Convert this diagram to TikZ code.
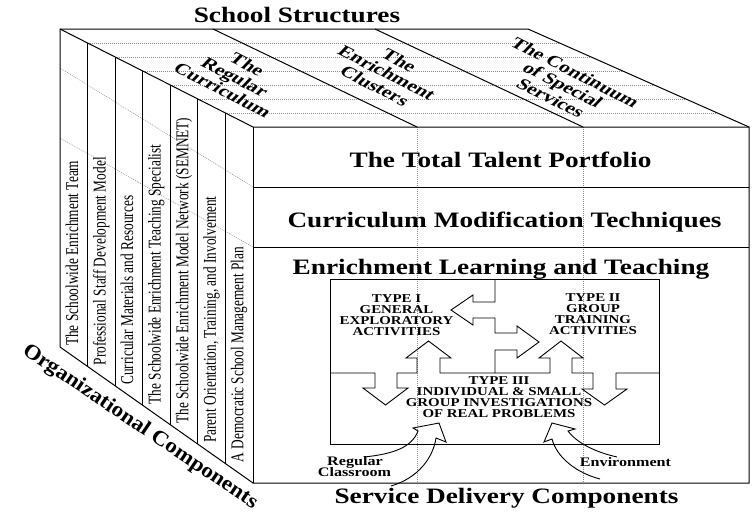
\documentclass[tikz,border=0pt]{standalone}
\usepackage{fontspec}
\setmainfont{Liberation Serif}
\usetikzlibrary{calc}
\begin{document}
\begin{tikzpicture}[x=1pt,y=-1pt,
  cube/.style={line width=1pt, line join=miter, black},
  thin/.style={line width=0.9pt, line join=miter, black},
  dots/.style={black!45, line width=0.5pt, dash pattern=on 1pt off 1pt},
  title/.style={font=\bfseries\fontsize{22}{24}\selectfont, inner sep=0pt, anchor=base, xscale=1.24},
  toptext/.style={font=\bfseries\fontsize{17}{17}\selectfont, align=center, inner sep=0pt, rotate=-27, xslant=0.3, xscale=1.2},
  typetext/.style={font=\bfseries\fontsize{12}{11}\selectfont, align=center, inner sep=0pt, xscale=1.24},
  lbl/.style={font=\bfseries\fontsize{13}{11}\selectfont, inner sep=0pt, anchor=base, xscale=1.24},
  side/.style={font=\fontsize{18}{20}\selectfont, inner sep=0pt, anchor=base west, rotate=90, xscale=0.74}
]
\useasboundingbox (0,0) rectangle (752,520);
% cube corners
\coordinate (A) at (60,29);
\coordinate (B) at (253,127);
\coordinate (C) at (749,127);
\coordinate (D) at (528,29);
\coordinate (E) at (60,347);
\coordinate (F) at (253,483);
\coordinate (G) at (749,483);
% dotted guide lines
\foreach \k in {1,...,6} \draw[dots] ($(A)!\k/7!(B)$) -- ($(D)!\k/7!(C)$);
\draw[dots] (60,68) -- (253,187);
\draw[dots] (60,138) -- (253,247);
\draw[dots] (417,127) -- (417,483);
\draw[dots] (583,127) -- (583,483);
% cube outline
\draw[cube] (A) -- (D) -- (C) -- (G) -- (F) -- (E) -- cycle;
\draw[cube] (A) -- (B) -- (C);
\draw[cube] (B) -- (F);
\draw[cube] (213,29) -- (417,127);
\draw[cube] (375,29) -- (583,127);
\draw[cube] (253,187) -- (749,187);
\draw[cube] (253,247) -- (749,247);
\foreach \k in {1,...,6} \draw[cube] ($(A)!\k/7!(B)$) -- ($(E)!\k/7!(F)$);
% inner box
\draw[thin] (330,279) rectangle (659,444);
\draw[thin] (330,373) -- (375,373) -- (375,388) -- (363,388) -- (385.5,405) -- (408,388) -- (397,388) -- (397,373)
  -- (417,373) -- (417,358) -- (406,358) -- (428.5,341) -- (451,358) -- (440,358) -- (440,373)
  -- (550,373) -- (550,358) -- (539,358) -- (561,341) -- (583,358) -- (572,358) -- (572,373)
  -- (593,373) -- (593,389) -- (582,389) -- (604.5,405) -- (627,389) -- (616,389) -- (616,373) -- (659,373);
\draw[thin] (495,279) -- (495,302) -- (473,302) -- (473,295) -- (451,310) -- (473,325) -- (473,318) -- (495,318)
  -- (495,333) -- (517,333) -- (517,326) -- (539,342) -- (517,358) -- (517,350) -- (495,350) -- (495,373);
% curved arrows
\draw[thin] (364,457) .. controls (394,454) and (412,447) .. (418,431) -- (413,428) -- (439,423) -- (446,442) -- (436,438)
  .. controls (433,458) and (418,478) .. (391,486);
\draw[thin] (617,457) .. controls (595,452) and (577,443) .. (568,431) -- (575,429) -- (552,423) -- (544,442) -- (552,439)
  .. controls (557,458) and (577,473) .. (600,479);
% titles
\node[title] (ss) at (297,22) {School Structures};
\node[title] (ttp) at (500.5,167) {The Total Talent Portfolio};
\node[title] (cmt) at (504.5,227) {Curriculum Modification Techniques};
\node[title] (elt) at (501,274) {Enrichment Learning and Teaching};
\node[title] (sdc) at (506.5,503) {Service Delivery Components};
% top face
\node[toptext] (reg) at (235,77) {The\\Regular\\Curriculum};
\node[toptext] (enr) at (387,73) {The\\Enrichment\\Clusters};
\node[toptext] (con) at (563,85) {The Continuum\\of Special\\Services};
% left face
\node[side] (s1) at (78,346) {The Schoolwide Enrichment Team};
\node[side] (s2) at (105.6,365.4) {Professional Staff Development Model};
\node[side] (s3) at (133.1,384.9) {Curricular Materials and Resources};
\node[side] (s4) at (160.7,404.3) {The Schoolwide Enrichment Teaching Specialist};
\node[side] (s5) at (188.3,423.7) {The Schoolwide Enrichment Model Network (SEMNET)};
\node[side] (s6) at (215.9,443.1) {Parent Orientation, Training, and Involvement};
\node[side] (s7) at (243.4,462.6) {A Democratic School Management Plan};
\node[font=\bfseries\fontsize{21}{24}\selectfont, inner sep=0pt, rotate=-34, xscale=1.1] (oc) at (140,427) {Organizational Components};
% types
\node[typetext] (t1) at (396.5,315.5) {TYPE I\\GENERAL\\EXPLORATORY\\ACTIVITIES};
\node[typetext] (t2) at (593,314.5) {TYPE II\\GROUP\\TRAINING\\ACTIVITIES};
\node[typetext] (t3) at (499,397.5) {TYPE III\\INDIVIDUAL \& SMALL\\GROUP INVESTIGATIONS\\OF REAL PROBLEMS};
\node[lbl] (rg) at (355,465) {Regular};
\node[lbl] (cl) at (354.5,476) {Classroom};
\node[lbl] (env) at (625.5,466) {Environment};
\end{tikzpicture}
\end{document}
